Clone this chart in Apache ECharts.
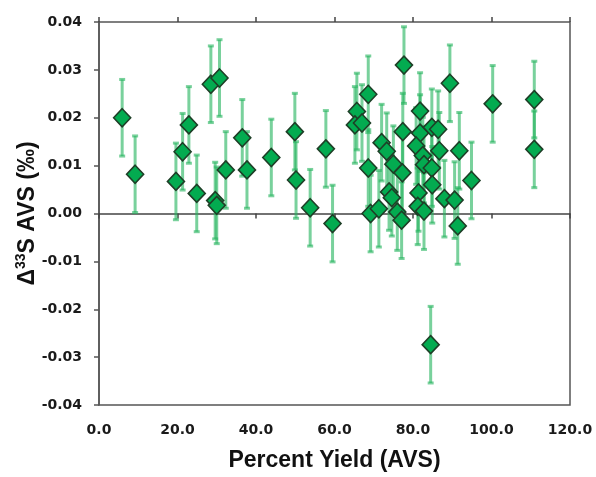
<!DOCTYPE html>
<html>
<head>
<meta charset="utf-8">
<script src="https://cdn.jsdelivr.net/npm/echarts@6/dist/echarts.min.js"></script>
<style>html,body{margin:0;padding:0;background:#fff;}#c{width:596px;height:477px;}</style>
</head>
<body>
<div id="c"></div>
<script>
// Percent Yield (AVS)
var xYield = [5.9, 9.2, 19.6, 21.3, 22.9, 24.9, 28.5, 30.7, 29.6, 30.0,
  32.3, 36.5, 37.7, 43.9, 49.9, 50.2, 53.8, 57.8, 59.5, 65.7,
  65.2, 67.0, 68.6, 68.6, 69.2, 71.3, 72.0, 73.3, 75.0, 77.3,
  73.9, 74.6, 76.0, 77.1, 77.7, 77.4, 81.8, 81.8, 84.8, 86.4,
  80.8, 82.5, 82.8, 84.8, 86.7, 91.8, 84.9, 81.4, 81.2, 82.8,
  88.0, 90.6, 91.4, 94.9, 89.4, 100.3, 110.9, 110.9, 84.5];
// Δ33S AVS (‰)
var d33S = [0.0200, 0.0082, 0.0067, 0.0129, 0.0185, 0.0042, 0.0270, 0.0283, 0.0027, 0.0017,
  0.0091, 0.0158, 0.0091, 0.0117, 0.0171, 0.0070, 0.0012, 0.0135, -0.0021, 0.0213,
  0.0185, 0.0189, 0.0249, 0.0095, 0.0000, 0.0010, 0.0148, 0.0130, 0.0103, 0.0085,
  0.0045, 0.0033, 0.0003, -0.0014, 0.0310, 0.0171, 0.0214, 0.0168, 0.0180, 0.0176,
  0.0141, 0.0121, 0.0102, 0.0095, 0.0131, 0.0131, 0.0060, 0.0043, 0.0015, 0.0005,
  0.0031, 0.0028, -0.0026, 0.0069, 0.0272, 0.0229, 0.0238, 0.0134, -0.0274];
// error (±)
var errBar = 0.008;
var xTicks = [0, 20, 40, 60, 80, 100, 120];
var yTicks = [-0.04, -0.03, -0.02, -0.01, 0.00, 0.01, 0.02, 0.03, 0.04];

var pts = xYield.map(function (x, i) { return [x, d33S[i], errBar]; });

var chart = echarts.init(document.getElementById('c'), null, {renderer: 'canvas'});
var labelFont = {fontFamily: 'DejaVu Sans', fontWeight: 'bold', fontSize: 14, color: '#1a1a1a'};
var xCommon = {type: 'value', min: xTicks[0], max: xTicks[xTicks.length - 1], interval: 20, splitLine: {show: false}};

chart.setOption({
  animation: false,
  grid: {left: 99, top: 22, width: 471, height: 385, show: true, borderColor: '#555', borderWidth: 1.5, backgroundColor: 'transparent'},
  xAxis: [
    Object.assign({}, xCommon, {
      position: 'bottom',
      axisLine: {show: false, onZero: false},
      axisTick: {show: false},
      axisLabel: Object.assign({margin: 18, formatter: function (v) { return v.toFixed(1); }}, labelFont),
      name: 'Percent Yield (AVS)',
      nameLocation: 'middle',
      nameGap: 44,
      nameMoveOverlap: false,
      nameTextStyle: {fontFamily: 'Liberation Sans', fontWeight: 'bold', fontSize: 23, color: '#111'}
    }),
    Object.assign({}, xCommon, {
      position: 'bottom',
      axisLine: {show: true, onZero: true, lineStyle: {color: '#444', width: 1.5}},
      axisTick: {show: true, length: 5, lineStyle: {color: '#444', width: 1.5}},
      axisLabel: {show: false}
    }),
    Object.assign({}, xCommon, {
      position: 'top',
      axisLine: {show: false, onZero: true},
      axisTick: {show: true, length: 5, lineStyle: {color: '#444', width: 1.5}},
      axisLabel: {show: false}
    })
  ],
  yAxis: {
    type: 'value', min: yTicks[0], max: yTicks[yTicks.length - 1], interval: 0.01,
    axisLine: {show: true, lineStyle: {color: '#555', width: 1.5}},
    axisTick: {show: true, length: 5, lineStyle: {color: '#555', width: 1.5}},
    splitLine: {show: false},
    axisLabel: Object.assign({margin: 17, formatter: function (v) { return Math.abs(v) < 1e-9 ? '0.00' : v.toFixed(2); }}, labelFont),
    name: '{a|Δ}{s|33}{a|S AVS (‰)}',
    nameLocation: 'middle',
    nameRotate: 90,
    nameGap: 57,
    nameMoveOverlap: false,
    nameTextStyle: {
      rich: {
        a: {fontFamily: 'Liberation Sans', fontWeight: 'bold', fontSize: 23, color: '#111', lineHeight: 28},
        s: {fontFamily: 'Liberation Sans', fontWeight: 'bold', fontSize: 14, color: '#111', lineHeight: 18, verticalAlign: 'top'}
      }
    }
  },
  series: [
    {
      type: 'custom',
      xAxisIndex: 0,
      data: pts,
      z: 2,
      renderItem: function (params, api) {
        var x = api.value(0), y = api.value(1), e = api.value(2);
        var t = api.coord([x, y + e]);
        var b = api.coord([x, y - e]);
        var st = {stroke: 'rgba(38,180,95,0.62)', lineWidth: 3};
        return {
          type: 'group',
          children: [
            {type: 'line', shape: {x1: t[0], y1: t[1], x2: b[0], y2: b[1]}, style: st},
            {type: 'line', shape: {x1: t[0] - 3, y1: t[1], x2: t[0] + 3, y2: t[1]}, style: st},
            {type: 'line', shape: {x1: b[0] - 3, y1: b[1], x2: b[0] + 3, y2: b[1]}, style: st}
          ]
        };
      }
    },
    {
      type: 'scatter',
      xAxisIndex: 0,
      data: pts,
      z: 3,
      symbol: 'diamond',
      symbolSize: [17, 18],
      itemStyle: {color: '#03ab50', borderColor: '#1e3f27', borderWidth: 1.6, opacity: 1}
    }
  ]
});
</script>
</body>
</html>
